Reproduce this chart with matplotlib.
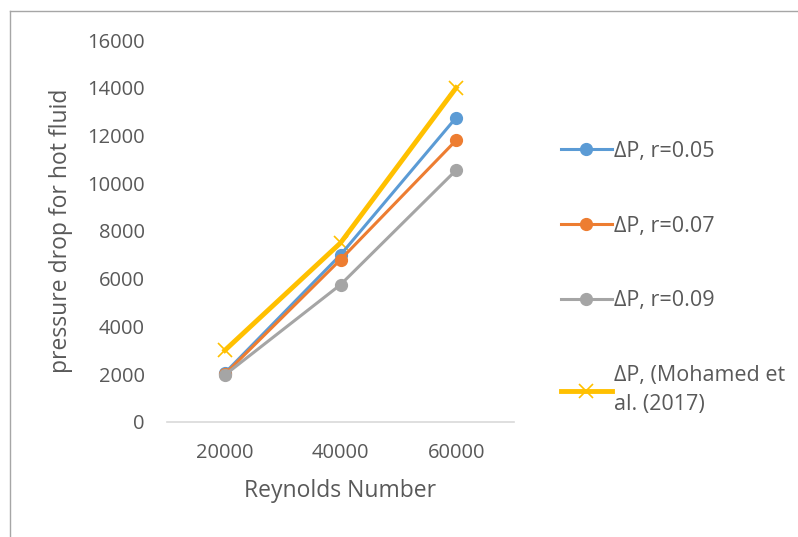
import matplotlib.pyplot as plt
from matplotlib.lines import Line2D

plt.rcParams['font.family'] = ['Open Sans', 'DejaVu Sans']

reynolds = ['20000', '40000', '60000']
dp_r005 = [2050, 7000, 12750]
dp_r007 = [2000, 6800, 11800]
dp_r009 = [1970, 5750, 10550]
dp_mohamed = [3000, 7500, 14000]

labels = ['ΔP, r=0.05', 'ΔP, r=0.07', 'ΔP, r=0.09', 'ΔP, (Mohamed et\nal. (2017)']
colors = ['#5B9BD5', '#ED7D31', '#A5A5A5', '#FFC000']
text_col = '#595959'

fig = plt.figure(figsize=(7.98, 5.37), dpi=100)
ax = fig.add_axes([0.2093, 0.2142, 0.4348, 0.7113])

x = range(len(reynolds))
for i, ys in enumerate([dp_r005, dp_r007, dp_r009]):
    ax.plot(x, ys, color=colors[i], lw=2.2, marker='o', ms=8.5,
            label=labels[i], zorder=2 + i)
ax.plot(x, dp_mohamed, color=colors[3], lw=3.5, marker='x', ms=10,
        mew=1.2, label=labels[3], zorder=1.5)

ax.set_xlim(-0.5, 2.5)
ax.set_ylim(0, 16000)
ax.set_yticks(range(0, 16001, 2000))
ax.set_xticks(list(x))
ax.set_xticklabels(reynolds)

for s in ['top', 'right', 'left']:
    ax.spines[s].set_visible(False)
ax.spines['bottom'].set_color('#D9D9D9')
ax.spines['bottom'].set_linewidth(1.2)
ax.tick_params(axis='both', length=0, labelsize=14.5, labelcolor=text_col)
ax.tick_params(axis='y', pad=16)
ax.tick_params(axis='x', pad=15)

ax.set_xlabel('Reynolds Number', fontsize=16.5, color=text_col, labelpad=12)
ax.set_ylabel('pressure drop for hot fluid', fontsize=16.5, color=text_col,
              labelpad=10)

leg = ax.legend(loc='upper left', bbox_to_anchor=(1.08, 0.787), frameon=False,
                fontsize=15.5, labelspacing=2.5, handlelength=2.35,
                handletextpad=0.12, labelcolor=text_col)
leg.get_texts()[3].set_linespacing(1.5)

# chart frame (top and left edges)
fig.add_artist(Line2D([10 / 798, 1], [1 - 11 / 537, 1 - 11 / 537],
                      transform=fig.transFigure, color='#A6A6A6', lw=1))
fig.add_artist(Line2D([10 / 798, 10 / 798], [0, 1 - 11 / 537],
                      transform=fig.transFigure, color='#A6A6A6', lw=1))

fig.savefig('out.png', dpi=100)
